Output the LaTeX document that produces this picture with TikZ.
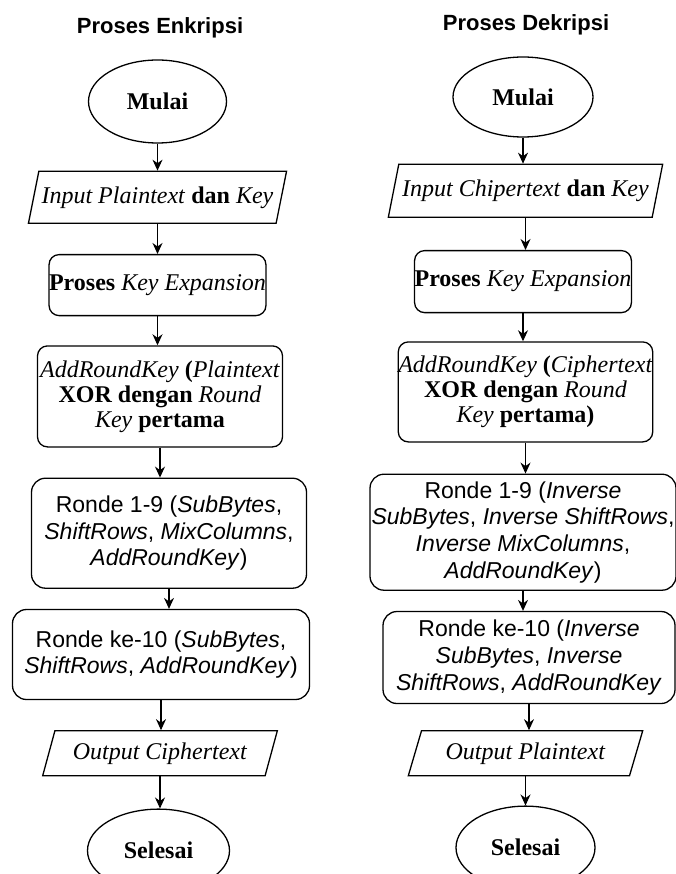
\documentclass[tikz,border=0pt]{standalone}
\usepackage{fontspec}
\setmainfont{Liberation Serif}
\setsansfont{Liberation Sans}
\usetikzlibrary{positioning,shapes.geometric,arrows.meta}

\newcommand{\term}[1]{\textmd{\textit{#1}}}

\tikzset{
  base/.style={draw, line width=1.3pt, align=center, inner sep=0pt},
  startstop/.style={base, ellipse, font=\fontsize{24}{26}\selectfont\bfseries},
  io/.style={base, trapezium, trapezium left angle=65, trapezium right angle=115,
    trapezium stretches=true, font=\fontsize{24}{26}\selectfont\bfseries},
  process/.style={base, rectangle, rounded corners=10pt, font=\fontsize{24}{25}\selectfont\bfseries},
  ronde/.style={base, rectangle, rounded corners=14pt, font=\sffamily\fontsize{23}{26.7}\selectfont},
  title/.style={font=\sffamily\bfseries\fontsize{22}{24}\selectfont},
  arr/.style={line width=1.1pt, -{Stealth[length=11pt, width=10pt]}}
}

\begin{document}
\begin{tikzpicture}[x=1pt, y=-1pt]
  \useasboundingbox (0,0) rectangle (676,874);

  % enkripsi
  \node[title] (titleE) at (160,28) {Proses Enkripsi};
  \node[startstop, minimum width=138pt, minimum height=83pt] (mulaiE) at (157.5,101.5) {Mulai};
  \node[io, below=27pt of mulaiE, minimum width=259pt, minimum height=52pt] (inE)
    {\term{Input Plaintext} dan \term{Key}};
  \node[process, below=30pt of inE, minimum width=210pt, minimum height=61pt] (keyE)
    {Proses \term{Key Expansion}};
  \node[process, below=29pt of keyE, xshift=2.5pt, minimum width=245pt, minimum height=101pt] (arkE)
    {\term{AddRoundKey} (\term{Plaintext}\\XOR dengan \term{Round}\\\term{Key} pertama};
  \node[ronde, below=30pt of arkE, xshift=9pt, minimum width=275pt, minimum height=110pt] (r19E)
    {Ronde 1-9 (\textit{SubBytes},\\\textit{ShiftRows}, \textit{MixColumns},\\\textit{AddRoundKey})};
  \node[ronde, below=20pt of r19E, xshift=-8pt, minimum width=297pt, minimum height=90pt] (r10E)
    {Ronde ke-10 (\textit{SubBytes},\\\textit{ShiftRows}, \textit{AddRoundKey})};
  \node[io, below=30pt of r10E, xshift=-1pt, minimum width=235pt, minimum height=45pt] (outE)
    {\term{Output Ciphertext}};
  \node[startstop, below=32pt of outE, xshift=-1.5pt, minimum width=142pt, minimum height=83pt] (selE)
    {Selesai};

  % dekripsi
  \node[title] (titleD) at (526,25) {Proses Dekripsi};
  \node[startstop, minimum width=140pt, minimum height=80pt] (mulaiD) at (523,97) {Mulai};
  \node[io, below=26pt of mulaiD, xshift=2.5pt, minimum width=275pt, minimum height=53pt] (inD)
    {\term{Input Chipertext} dan \term{Key}};
  \node[process, below=32pt of inD, xshift=-2.5pt, minimum width=210pt, minimum height=62pt] (keyD)
    {Proses \term{Key Expansion}};
  \node[process, below=28pt of keyD, xshift=2.5pt, minimum width=245pt, minimum height=100pt] (arkD)
    {\term{AddRoundKey} (\term{Ciphertext}\\XOR dengan \term{Round}\\\term{Key} pertama)};
  \node[ronde, below=31pt of arkD, xshift=-2.5pt, minimum width=306pt, minimum height=116pt] (r19D)
    {Ronde 1-9 (\textit{Inverse}\\\textit{SubBytes}, \textit{Inverse ShiftRows},\\\textit{Inverse MixColumns},\\\textit{AddRoundKey})};
  \node[ronde, below=20pt of r19D, xshift=6pt, minimum width=292pt, minimum height=92pt] (r10D)
    {Ronde ke-10 (\textit{Inverse}\\\textit{SubBytes}, \textit{Inverse}\\\textit{ShiftRows}, \textit{AddRoundKey}};
  \node[io, below=26pt of r10D, xshift=-3.5pt, minimum width=235pt, minimum height=45pt] (outD)
    {\term{Output Plaintext}};
  \node[startstop, below=29pt of outD, minimum width=139pt, minimum height=83pt] (selD)
    {Selesai};

  % panah
  \draw[arr] (mulaiE.south) -- (mulaiE.south |- inE.north);
  \draw[arr] (inE.south) -- (inE.south |- keyE.north);
  \draw[arr] (keyE.south) -- (keyE.south |- arkE.north);
  \draw[arr] (arkE.south) -- (arkE.south |- r19E.north);
  \draw[arr] (r19E.south) -- (r19E.south |- r10E.north);
  \draw[arr] (r10E.south) -- (r10E.south |- outE.north);
  \draw[arr] (outE.south) -- (outE.south |- selE.north);

  \draw[arr] (mulaiD.south) -- (mulaiD.south |- inD.north);
  \draw[arr] (inD.south) -- (inD.south |- keyD.north);
  \draw[arr] (keyD.south) -- (keyD.south |- arkD.north);
  \draw[arr] (arkD.south) -- (arkD.south |- r19D.north);
  \draw[arr] (r19D.south) -- (r19D.south |- r10D.north);
  \draw[arr] (r10D.south) -- (r10D.south |- outD.north);
  \draw[arr] (outD.south) -- (outD.south |- selD.north);
\end{tikzpicture}
\end{document}
